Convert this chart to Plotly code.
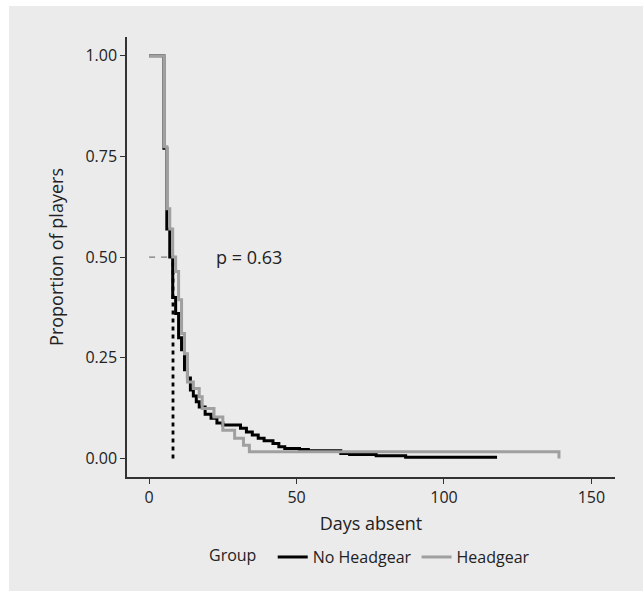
import plotly.graph_objects as go

# Kaplan-Meier step data
no_hg_days = [0, 5, 6, 7, 8, 9, 10, 11, 12, 13, 14, 15, 16, 17, 19, 21, 23, 25, 31, 33, 35, 37, 39, 42, 44, 46, 51, 54, 65, 68, 77, 87, 118]
no_hg_surv = [1.0, 0.77, 0.57, 0.50, 0.40, 0.36, 0.30, 0.27, 0.22, 0.20, 0.17, 0.155, 0.141, 0.128, 0.11, 0.10, 0.088, 0.083, 0.075, 0.066, 0.058, 0.05, 0.044, 0.037, 0.029, 0.025, 0.022, 0.019, 0.0124, 0.010, 0.0065, 0.003, 0.003]

hg_days = [0, 5, 6, 7, 8, 9, 10, 11, 12, 13, 15, 17, 18, 22, 25, 29, 32, 34, 139, 139]
hg_surv = [1.0, 0.774, 0.62, 0.57, 0.50, 0.464, 0.394, 0.31, 0.26, 0.19, 0.174, 0.153, 0.124, 0.103, 0.07, 0.05, 0.033, 0.0165, 0.0165, 0.0]

median_surv = 0.5
median_day = 8.1
p_label = "p = 0.63"
p_day = 22.0

x_ticks = [0, 50, 100, 150]
y_ticks = [0.0, 0.25, 0.5, 0.75, 1.0]
y_tick_text = ["0.00", "0.25", "0.50", "0.75", "1.00"]

BG = "#EBEBEB"
AX = "#333333"
TXT = "#222222"
FONT = "Open Sans"

fig = go.Figure()

# median lines
fig.add_trace(go.Scatter(x=[0, median_day], y=[median_surv, median_surv], mode="lines",
                         line=dict(color="#7a7a7a", width=1.3, dash="6px,6px"),
                         showlegend=False, hoverinfo="skip"))
fig.add_trace(go.Scatter(x=[median_day, median_day], y=[0, median_surv], mode="lines",
                         line=dict(color="#000000", width=2.8, dash="4px,4px"),
                         showlegend=False, hoverinfo="skip"))

fig.add_trace(go.Scatter(x=no_hg_days, y=no_hg_surv, mode="lines", name="No Headgear",
                         line=dict(color="#000000", width=3, shape="hv")))
fig.add_trace(go.Scatter(x=hg_days, y=hg_surv, mode="lines", name="Headgear",
                         line=dict(color="#A0A0A0", width=3, shape="hv")))

fig.add_annotation(x=p_day, y=median_surv, text=p_label, showarrow=False,
                   xanchor="left", yanchor="middle", font=dict(size=18, color=TXT, family=FONT))

# thin white strips at top and left of the grey page
L, R, T, B = 127, 28, 37, 114
W, H = 643 - L - R, 591 - T - B
fig.add_shape(type="rect", xref="paper", yref="paper", layer="below",
              x0=-(L + 5) / W, x1=(9 - L) / W, y0=-(B + 5) / H, y1=1 + (T + 5) / H,
              fillcolor="white", line=dict(width=0))
fig.add_shape(type="rect", xref="paper", yref="paper", layer="below",
              x0=-(L + 5) / W, x1=1 + (R + 5) / W, y0=1 + (T - 6) / H, y1=1 + (T + 5) / H,
              fillcolor="white", line=dict(width=0))

fig.update_layout(
    width=643, height=591,
    margin=dict(l=L, r=R, t=T, b=B),
    paper_bgcolor=BG, plot_bgcolor=BG,
    font=dict(family=FONT, color=TXT),
    showlegend=True,
    legend=dict(orientation="h", x=0.5, xanchor="center", y=-0.182, yanchor="middle",
                title=dict(text="Group  ", font=dict(size=16, color=TXT), side="left"),
                font=dict(size=16, color=TXT), bgcolor="rgba(0,0,0,0)",
                itemwidth=30, tracegroupgap=0),
    xaxis=dict(range=[-7.5, 158], tickvals=x_ticks, showgrid=False, zeroline=False,
               showline=True, linecolor=AX, linewidth=1.5, ticks="outside", ticklen=5,
               tickcolor=AX, tickwidth=1, tickfont=dict(size=16, color=TXT),
               title=dict(text="Days absent", font=dict(size=18, color=TXT), standoff=10)),
    yaxis=dict(range=[-0.046, 1.0465], tickvals=y_ticks, ticktext=y_tick_text, showgrid=False,
               zeroline=False, showline=True, linecolor=AX, linewidth=1.5, ticks="outside",
               ticklen=5, tickcolor=AX, tickwidth=1, tickfont=dict(size=16, color=TXT),
               title=dict(text="Proportion of players", font=dict(size=18, color=TXT), standoff=17)),
)

fig.write_html("out.html", config={"displayModeBar": False},
               post_script=("document.documentElement.style.overflow='hidden';"
                            "document.documentElement.style.background='" + BG + "';"
                            "document.body.style.margin='0';document.body.style.overflow='hidden';"
                            "document.body.style.background='" + BG + "';"))
